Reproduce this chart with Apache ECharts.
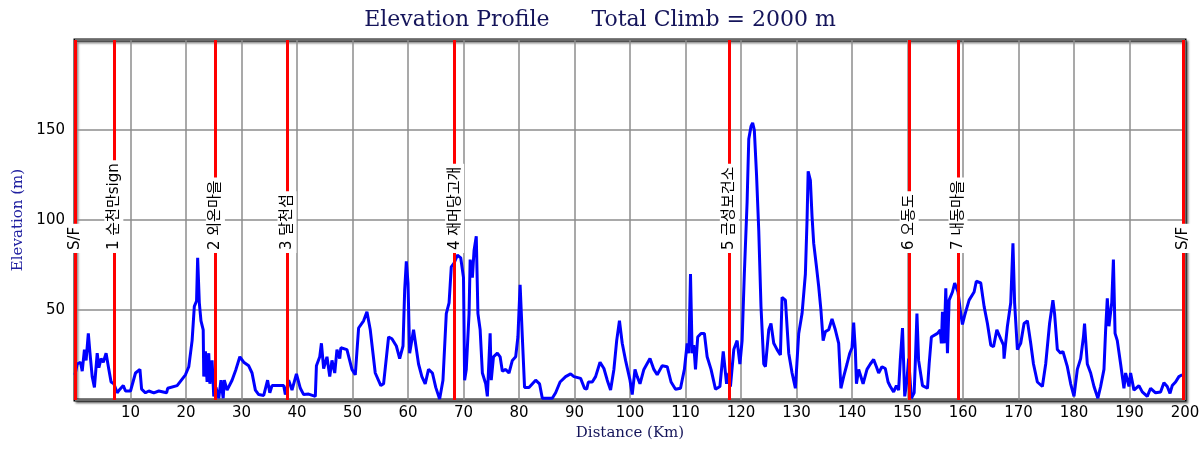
<!DOCTYPE html>
<html>
<head>
<meta charset="utf-8">
<script src="https://cdn.jsdelivr.net/npm/echarts/dist/echarts.min.js"></script>
<style>
  html, body { margin: 0; padding: 0; background: #fff; }
  #chart { width: 1200px; height: 450px; }
</style>
</head>
<body>
<div id="chart"></div>
<script>
// distance along the route (km) and elevation (m)
var distKm = [
  0, 0.4, 1, 1.3, 1.7, 2.0, 2.4, 2.7, 3.1, 3.5, 4.0, 4.3, 4.7, 5.1, 5.6, 6.1, 6.5, 7.0, 7.6, 8.1,
  8.7, 9.1, 10.0, 10.9, 11.7, 12.0, 12.7, 13.3, 14.2, 15.1, 16.5, 16.7, 18.4, 19.9, 20.5, 21.1, 21.5, 21.9, 22.1, 22.4,
  22.7, 23.1, 23.2, 23.5, 23.8, 24.1, 24.3, 24.7, 25.0, 25.4, 25.9, 26.3, 26.7, 26.9, 27.4, 28.3, 29.0, 29.7, 30.4, 31.3,
  31.9, 32.5, 33.1, 34.0, 34.7, 35.1, 35.5, 37.0, 37.6, 37.9, 38.5, 39.1, 39.9, 40.6, 41.2, 42.1, 43.3, 43.5, 44.1, 44.4,
  44.8, 45.4, 45.9, 46.3, 46.8, 47.2, 47.7, 47.9, 49.0, 49.9, 50.5, 51.1, 52.0, 52.6, 53.2, 54.1, 55.1, 55.6, 56.5, 57.1,
  57.9, 58.5, 59.1, 59.4, 59.7, 60.0, 60.3, 61.0, 61.3, 61.9, 62.5, 63.1, 63.7, 64.4, 65.0, 65.7, 66.3, 66.9, 67.4, 67.8,
  68.3, 68.9, 69.5, 70.0, 70.2, 70.5, 71.0, 71.2, 71.6, 71.9, 72.3, 72.6, 73.0, 73.4, 74.0, 74.3, 74.8, 75.0, 75.4, 76.1,
  76.6, 77.0, 77.6, 78.2, 78.8, 79.4, 79.8, 80.2, 80.6, 81.0, 81.8, 83.0, 83.7, 84.2, 86.0, 86.6, 87.4, 88.4, 89.3, 89.9,
  91.1, 91.8, 92.2, 92.5, 93.2, 93.8, 94.6, 95.3, 95.9, 96.5, 97.1, 97.6, 98.1, 98.6, 99.2, 100.0, 100.4, 100.9, 101.3, 101.8,
  102.5, 103.6, 104.3, 104.9, 105.8, 106.7, 107.4, 108.2, 109.1, 109.8, 110.3, 110.6, 110.9, 111.2, 111.5, 111.8, 112.2, 112.8, 113.4, 113.9,
  114.6, 115.4, 116.2, 116.8, 117.4, 117.8, 118.1, 118.7, 119.3, 119.8, 120.2, 120.6, 121.1, 121.4, 121.8, 122.1, 122.4, 122.8, 123.2, 123.6,
  124.1, 124.4, 125.0, 125.4, 125.9, 126.5, 127.1, 127.4, 128.0, 128.6, 129.2, 129.8, 130.4, 131.0, 131.6, 131.9, 132.1, 132.5, 132.8, 133.1,
  133.6, 134.0, 134.4, 134.8, 135.2, 135.8, 136.4, 137.0, 137.6, 138.0, 138.5, 139.1, 139.6, 140.0, 140.3, 140.6, 140.8, 141.2, 141.5, 142.0,
  142.7, 143.3, 143.9, 144.4, 144.8, 145.4, 146.0, 146.5, 146.9, 147.5, 148.0, 148.4, 148.7, 149.1, 149.5, 149.9, 150.2, 150.7, 151.2, 151.4,
  151.7, 152.0, 152.7, 153.6, 153.9, 154.3, 155.4, 155.9, 156.1, 156.3, 156.6, 156.9, 157.2, 157.5, 158.1, 158.5, 159.1, 159.5, 159.9, 160.3,
  161.1, 162.0, 162.4, 163.2, 163.8, 164.4, 165.0, 165.5, 166.1, 166.8, 167.3, 167.4, 168.0, 168.6, 169.0, 169.3, 169.8, 170.4, 171.0, 171.6,
  172.2, 172.7, 173.4, 174.3, 174.9, 175.6, 176.2, 176.5, 177.0, 177.6, 178.0, 178.8, 179.4, 180.0, 180.6, 181.2, 181.7, 181.9, 182.4, 183.0,
  183.6, 184.3, 184.8, 185.4, 185.7, 186.0, 186.3, 186.8, 187.1, 187.4, 187.8, 188.4, 189.0, 189.3, 189.9, 190.2, 190.8, 191.7, 192.3, 193.2,
  193.8, 194.7, 195.6, 196.2, 196.8, 197.3, 197.7, 198.3, 198.9, 199.5
];
var elevM = [
  14, 20, 21, 16, 28, 22, 37, 26, 13, 7, 26, 18, 23, 21, 26, 17, 10, 9, 4, 6,
  8, 5, 5, 15, 17, 6, 4, 5, 4, 5, 4, 6.5, 8, 14, 18.5, 33, 52, 55, 79, 54,
  44, 39, 13, 27, 10, 26, 9, 22, 2, 7, 1, 11, 1, 11, 5.5, 11, 17, 24, 21, 19,
  15, 5.5, 3, 2.5, 11, 4, 8, 8, 8, 3, 11, 5.5, 14.5, 6.5, 3, 3.3, 2, 19, 24, 31.5,
  17.5, 24, 13, 22, 15, 28, 23, 29, 28, 17, 14, 40, 44, 49, 39, 15, 8, 9, 35, 34,
  30, 23, 30, 61, 77, 65, 26, 39, 39, 20, 13, 9, 17, 15, 7, 0.5, 11, 48, 54, 74,
  76, 80.5, 79, 68, 11, 17, 48, 78, 68, 83, 91, 48, 39, 15, 9, 2, 37, 11, 24, 26,
  24, 16, 17, 15, 22, 24, 35, 64, 35, 7, 7, 11, 9, 1, 1, 4, 10, 13, 14.5, 13,
  12, 6.5, 6, 10, 10, 13, 21, 17.5, 11, 5.5, 17, 33, 44, 31.5, 22, 11, 3, 17, 13, 9,
  17, 23, 17, 14, 19, 18.5, 10, 6, 6.5, 17, 31.5, 26, 70, 26, 30.5, 17, 35, 37, 37, 24,
  17, 6, 7.5, 27, 9, 15, 7.5, 28, 33, 20, 33, 70, 110, 145, 152, 154, 150, 125, 94, 52,
  20, 18.5, 39, 42.5, 31.5, 28, 25, 57, 55.5, 26, 15, 6.5, 37, 48, 70, 100, 127, 122, 102, 87,
  74, 63, 50, 33, 38, 39, 45, 39, 31.5, 6.5, 13, 20, 26, 29, 43, 28, 9, 17, 14, 9,
  17, 20, 22.5, 18.5, 15, 18.5, 17.5, 10, 7.5, 4.5, 8, 5.5, 22, 40, 2, 11, 23, 1, 4, 20,
  48, 22, 8, 6.5, 20, 35, 37, 39, 31.5, 49, 31.5, 62, 26, 55.5, 60, 65, 60, 50, 42, 47,
  55.5, 60, 66, 65, 52, 42.5, 30.5, 29.6, 39, 34, 30.5, 23, 41, 54, 87, 54, 28, 31.5, 42.5, 44,
  31.5, 20, 10, 7.5, 20, 42.5, 55.5, 48, 28, 26, 27, 18.5, 9, 2, 17, 23, 35, 42.5, 20, 15,
  7.5, 1, 7.5, 17, 39, 56.5, 41, 54, 78, 37, 33, 20, 6.5, 15, 7.5, 15, 5.5, 8, 4.5, 2,
  6.5, 4, 4.5, 9.6, 7.5, 3.7, 8, 10, 13, 14
];

// checkpoints along the route
var markerKm = [0, 7.0, 25.3, 38.2, 68.4, 117.9, 150.3, 159.1, 199.6];
var markerNames = ["S/F", "1 순천만sign", "2 외온마을", "3 달천섬", "4 재머당고개", "5 금성보건소", "6 오동도", "7 내동마을", "S/F"];

var profile = distKm.map(function (d, i) { return [d, elevM[i]]; });

var chart = echarts.init(document.getElementById("chart"));

var option = {
  animation: false,
  title: {
    text: "Elevation Profile      Total Climb = 2000 m",
    left: "center",
    top: 4,
    textStyle: {
      fontFamily: "DejaVu Serif",
      fontWeight: "normal",
      fontSize: 22,
      color: "#14145a"
    }
  },
  grid: {
    left: 75,
    right: 15,
    top: 40,
    bottom: 50,
    outerBoundsMode: "none",
    show: true,
    backgroundColor: "#fff",
    borderColor: "#000",
    borderWidth: 3,
    shadowColor: "rgba(0, 0, 0, 0.45)",
    shadowBlur: 2,
    shadowOffsetX: 2,
    shadowOffsetY: 2
  },
  xAxis: {
    type: "value",
    min: 0,
    max: 200,
    interval: 10,
    name: "Distance (Km)",
    nameLocation: "middle",
    nameGap: 23,
    nameTextStyle: {
      fontFamily: "DejaVu Serif",
      fontSize: 15,
      color: "#14145a"
    },
    axisLine: { show: false },
    axisTick: { show: false },
    axisLabel: {
      fontFamily: "DejaVu Sans",
      fontSize: 15,
      color: "#000",
      margin: 6,
      formatter: function (v) { return v === 0 ? "" : v; }
    },
    splitLine: { lineStyle: { color: "#8c8c8c", width: 1.5 } }
  },
  yAxis: {
    type: "value",
    min: 0,
    max: 200,
    interval: 50,
    name: "Elevation (m)",
    nameLocation: "middle",
    nameGap: 47,
    nameTextStyle: {
      fontFamily: "DejaVu Serif",
      fontSize: 15,
      color: "#2020a0"
    },
    axisLine: { show: false },
    axisTick: { show: false },
    axisLabel: {
      fontFamily: "DejaVu Sans",
      fontSize: 15,
      color: "#000",
      margin: 10,
      formatter: function (v) { return (v === 0 || v === 200) ? "" : v; }
    },
    splitLine: { lineStyle: { color: "#8c8c8c", width: 1.5 } }
  },
  series: [
    {
      type: "line",
      data: profile,
      showSymbol: false,
      symbol: "none",
      lineStyle: { color: "#0000ff", width: 3 },
      z: 3,
      markLine: {
        silent: true,
        symbol: ["none", "none"],
        animation: false,
        lineStyle: { color: "#ff0000", width: 3, type: "solid" },
        label: {
          show: true,
          position: "insideStart",
          distance: [147, 0],
          fontFamily: "DejaVu Sans, 'Noto Sans CJK KR'",
          fontSize: 15,
          color: "#000",
          backgroundColor: "#fff",
          padding: [2, 3]
        },
        emphasis: { disabled: true },
        data: markerKm.map(function (km, i) {
          return { xAxis: km, label: { formatter: markerNames[i] } };
        })
      }
    }
  ]
};

chart.setOption(option);
</script>
</body>
</html>
